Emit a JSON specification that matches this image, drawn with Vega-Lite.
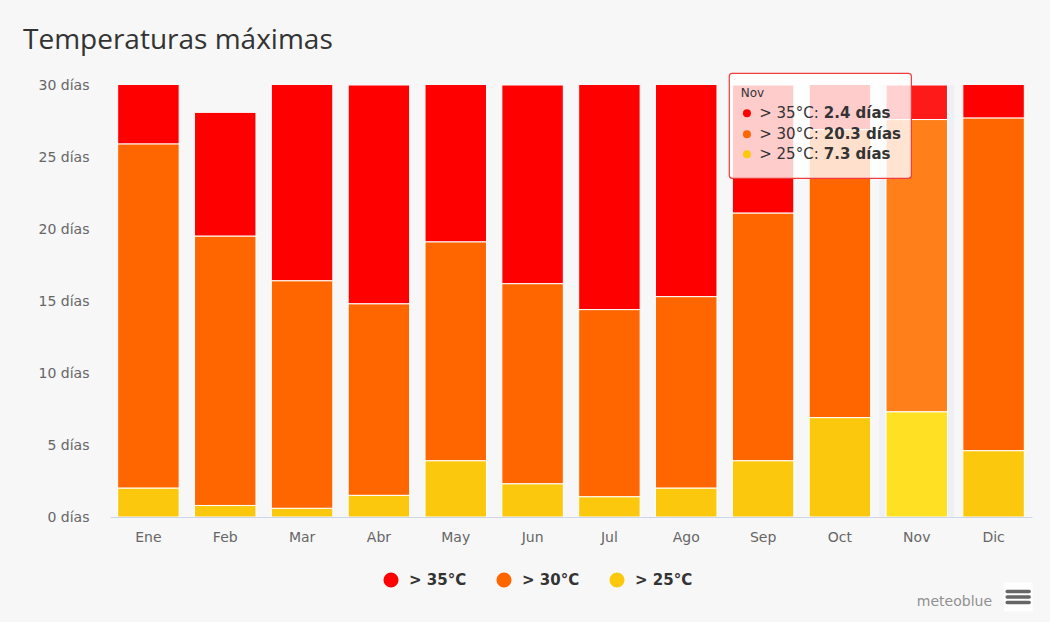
{
  "$schema": "https://vega.github.io/schema/vega-lite/v6.json",
  "width": 922,
  "height": 432,
  "autosize": "none",
  "padding": {"left": 110, "top": 85, "right": 18, "bottom": 105},
  "background": "#f7f7f7",
  "title": {
    "text": "Temperaturas máximas",
    "font": "Open Sans",
    "fontSize": 28,
    "fontWeight": "normal",
    "color": "#333333",
    "anchor": "start",
    "frame": "group",
    "dx": -87,
    "offset": 18
  },
  "config": {
    "view": {"stroke": null},
    "font": "DejaVu Sans"
  },
  "data": {
    "values": [
      {"month": "Ene", "series": "> 35°C", "days": 5.1},
      {"month": "Ene", "series": "> 30°C", "days": 23.9},
      {"month": "Ene", "series": "> 25°C", "days": 2.0},
      {"month": "Feb", "series": "> 35°C", "days": 8.6},
      {"month": "Feb", "series": "> 30°C", "days": 18.7},
      {"month": "Feb", "series": "> 25°C", "days": 0.8},
      {"month": "Mar", "series": "> 35°C", "days": 14.6},
      {"month": "Mar", "series": "> 30°C", "days": 15.8},
      {"month": "Mar", "series": "> 25°C", "days": 0.6},
      {"month": "Abr", "series": "> 35°C", "days": 15.2},
      {"month": "Abr", "series": "> 30°C", "days": 13.3},
      {"month": "Abr", "series": "> 25°C", "days": 1.5},
      {"month": "May", "series": "> 35°C", "days": 11.9},
      {"month": "May", "series": "> 30°C", "days": 15.2},
      {"month": "May", "series": "> 25°C", "days": 3.9},
      {"month": "Jun", "series": "> 35°C", "days": 13.8},
      {"month": "Jun", "series": "> 30°C", "days": 13.9},
      {"month": "Jun", "series": "> 25°C", "days": 2.3},
      {"month": "Jul", "series": "> 35°C", "days": 16.6},
      {"month": "Jul", "series": "> 30°C", "days": 13.0},
      {"month": "Jul", "series": "> 25°C", "days": 1.4},
      {"month": "Ago", "series": "> 35°C", "days": 15.7},
      {"month": "Ago", "series": "> 30°C", "days": 13.3},
      {"month": "Ago", "series": "> 25°C", "days": 2.0},
      {"month": "Sep", "series": "> 35°C", "days": 8.9},
      {"month": "Sep", "series": "> 30°C", "days": 17.2},
      {"month": "Sep", "series": "> 25°C", "days": 3.9},
      {"month": "Oct", "series": "> 35°C", "days": 4.1},
      {"month": "Oct", "series": "> 30°C", "days": 20.0},
      {"month": "Oct", "series": "> 25°C", "days": 6.9},
      {"month": "Nov", "series": "> 35°C", "days": 2.4},
      {"month": "Nov", "series": "> 30°C", "days": 20.3},
      {"month": "Nov", "series": "> 25°C", "days": 7.3},
      {"month": "Dic", "series": "> 35°C", "days": 3.3},
      {"month": "Dic", "series": "> 30°C", "days": 23.1},
      {"month": "Dic", "series": "> 25°C", "days": 4.6}
    ]
  },
  "layer": [
    {
      "layer": [
        {
          "transform": [{"filter": "datum.month === 'Nov' && datum.series === '> 35°C'"}],
          "mark": {"type": "bar", "color": "#eef0f5", "width": {"band": 1.22}},
          "encoding": {
            "x": {"field": "month", "type": "nominal"},
            "y": {"datum": 30, "type": "quantitative"},
            "y2": {"datum": 0}
          }
        },
        {
          "mark": {"type": "bar", "clip": true, "stroke": "white", "strokeWidth": 1},
          "encoding": {
            "x": {"field": "month", "type": "nominal"},
            "y": {"field": "days", "type": "quantitative", "stack": "zero"},
            "order": {"field": "series", "sort": "ascending"},
            "color": {
              "field": "series",
              "type": "nominal",
              "scale": {"domain": ["> 35°C", "> 30°C", "> 25°C"], "range": ["#ff0000", "#ff6600", "#fcc80e"]},
              "legend": {
                "title": null,
                "orient": "none",
                "direction": "horizontal",
                "legendX": 273,
                "legendY": 487,
                "symbolType": "circle",
                "symbolSize": 227,
                "symbolStrokeWidth": 0,
                "symbolOpacity": 1,
                "labelFont": "DejaVu Sans",
                "labelFontSize": 15,
                "labelFontWeight": "bold",
                "labelColor": "#333333",
                "labelOffset": 10,
                "columnPadding": 29
              }
            }
          }
        },
        {
          "transform": [{"filter": "datum.month === 'Nov'"}],
          "mark": {"type": "bar", "clip": true, "stroke": "white", "strokeWidth": 1},
          "encoding": {
            "x": {"field": "month", "type": "nominal"},
            "y": {"field": "days", "type": "quantitative", "stack": "zero"},
            "order": {"field": "series", "sort": "ascending"},
            "color": {
              "field": "series",
              "type": "nominal",
              "scale": {"domain": ["> 35°C", "> 30°C", "> 25°C"], "range": ["#ff1a1a", "#ff7f1a", "#ffe022"]},
              "legend": null
            }
          }
        }
      ],
      "encoding": {
        "x": {
          "field": "month",
          "type": "nominal",
          "sort": ["Ene", "Feb", "Mar", "Abr", "May", "Jun", "Jul", "Ago", "Sep", "Oct", "Nov", "Dic"],
          "scale": {"paddingInner": 0.2, "paddingOuter": 0.1},
          "axis": {
            "title": null,
            "labelAngle": 0,
            "labelFontSize": 14,
            "labelColor": "#666666",
            "labelPadding": 13,
            "ticks": false,
            "domainColor": "#ccd6eb",
            "domainWidth": 1
          }
        },
        "y": {
          "type": "quantitative",
          "scale": {"domain": [0, 30], "nice": false},
          "axis": {
            "title": null,
            "values": [0, 5, 10, 15, 20, 25, 30],
            "labelExpr": "datum.value + ' días'",
            "labelFontSize": 14,
            "labelColor": "#666666",
            "labelPadding": 21,
            "ticks": false,
            "domain": false,
            "gridColor": "#e6e6e6",
            "gridWidth": 1
          }
        }
      },
      "resolve": {"scale": {"color": "independent"}}
    },
    {
      "data": {"values": [{}]},
      "layer": [
        {
          "mark": {"type": "rect", "fill": "white", "fillOpacity": 0.8, "stroke": "#f03c3c", "strokeWidth": 1.2, "cornerRadius": 3},
          "encoding": {
            "x": {"datum": 8.06, "type": "quantitative"},
            "x2": {"datum": 10.43},
            "y": {"datum": 30.81, "type": "quantitative"},
            "y2": {"datum": 23.52}
          }
        },
        {
          "mark": {"type": "text", "text": "Nov", "fontSize": 12, "color": "#333333", "align": "left", "baseline": "alphabetic"},
          "encoding": {
            "x": {"datum": 8.21, "type": "quantitative"},
            "y": {"datum": 29.15, "type": "quantitative"}
          }
        },
        {
          "mark": {"type": "point", "shape": "circle", "filled": true, "size": 64, "color": "#ff0000", "opacity": 1},
          "encoding": {
            "x": {"datum": 8.29, "type": "quantitative"},
            "y": {"datum": 28.03, "type": "quantitative"}
          }
        },
        {
          "mark": {"type": "point", "shape": "circle", "filled": true, "size": 64, "color": "#ff6600", "opacity": 1},
          "encoding": {
            "x": {"datum": 8.29, "type": "quantitative"},
            "y": {"datum": 26.58, "type": "quantitative"}
          }
        },
        {
          "mark": {"type": "point", "shape": "circle", "filled": true, "size": 64, "color": "#fcc80e", "opacity": 1},
          "encoding": {
            "x": {"datum": 8.29, "type": "quantitative"},
            "y": {"datum": 25.19, "type": "quantitative"}
          }
        },
        {
          "mark": {"type": "text", "text": ["> 35°C:", "> 30°C:", "> 25°C:"], "fontSize": 15, "lineHeight": 20.5, "color": "#333333", "align": "left", "baseline": "alphabetic"},
          "encoding": {
            "x": {"datum": 8.45, "type": "quantitative"},
            "y": {"datum": 27.69, "type": "quantitative"}
          }
        },
        {
          "mark": {"type": "text", "text": ["2.4 días", "20.3 días", "7.3 días"], "fontSize": 15, "fontWeight": "bold", "lineHeight": 20.5, "color": "#333333", "align": "left", "baseline": "alphabetic"},
          "encoding": {
            "x": {"datum": 9.29, "type": "quantitative"},
            "y": {"datum": 27.69, "type": "quantitative"}
          }
        },
        {
          "mark": {"type": "text", "text": "meteoblue", "fontSize": 14, "color": "#909090", "align": "right", "baseline": "alphabetic"},
          "encoding": {
            "x": {"datum": 11.48, "type": "quantitative"},
            "y": {"datum": -6.18, "type": "quantitative"}
          }
        },
        {
          "mark": {"type": "point", "shape": "square", "filled": true, "size": 840, "color": "white", "opacity": 1},
          "encoding": {
            "x": {"datum": 11.82, "type": "quantitative"},
            "y": {"datum": -5.56, "type": "quantitative"}
          }
        },
        {
          "mark": {"type": "point", "shape": "M-1,-0.5H1M-1,0H1M-1,0.5H1", "filled": false, "size": 484, "stroke": "#666666", "strokeWidth": 3.5, "strokeCap": "round", "opacity": 1},
          "encoding": {
            "x": {"datum": 11.82, "type": "quantitative"},
            "y": {"datum": -5.56, "type": "quantitative"}
          }
        }
      ],
      "encoding": {
        "x": {"type": "quantitative", "scale": {"domain": [0, 12], "nice": false, "zero": false}, "axis": null},
        "y": {"type": "quantitative", "scale": {"domain": [0, 30], "nice": false}}
      }
    }
  ],
  "resolve": {"scale": {"x": "independent"}}
}
